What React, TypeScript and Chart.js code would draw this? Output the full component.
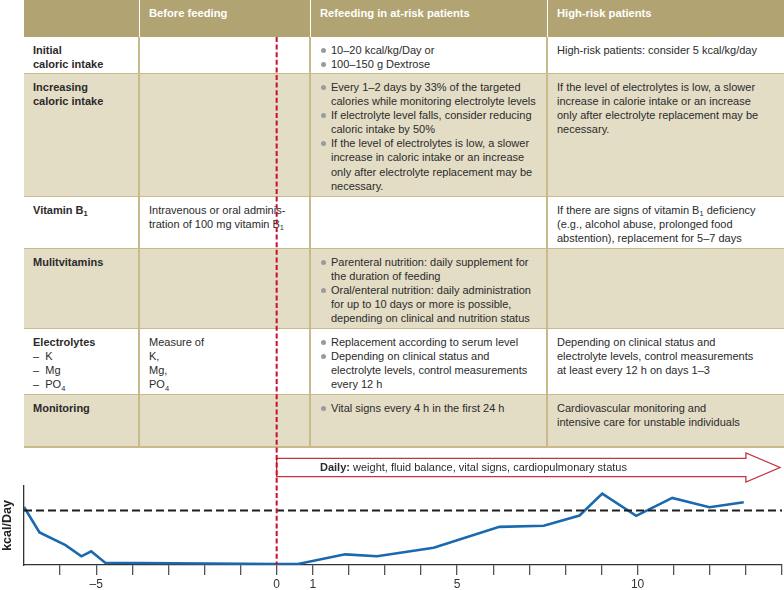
import React, { useEffect, useRef } from "react";
import { Chart, registerables } from "chart.js";

Chart.register(...registerables);

// ---------- chart data ----------
const days = [-7, -6.57, -5.85, -5.41, -5.14, -4.75, 0, 0.59, 1.9, 2.78, 4.35, 6.17, 7.4, 8.39, 9.02, 9.96, 10.96, 11.99, 12.94];
const kcal = [73.5, 41.2, 25.2, 11, 17.3, 2.9, 1.3, 1.3, 13.5, 11, 21.8, 48.3, 49.6, 62.7, 90.4, 62.2, 84.9, 73.1, 79.4];
const targetKcal = 69;
const xMin = -7;
const xMax = 14;
const arrowHeadDay = 13;
const labeledDays = [-5, 0, 1, 5, 10];
const yAxisTitle = "kcal/Day";
const arrowBold = "Daily:";
const arrowText = " weight, fluid balance, vital signs, cardiopulmonary status";

// ---------- table content ----------
const headers = ["", "Before feeding", "Refeeding in at-risk patients", "High-risk patients"];
const rowLabels = [["Initial", "caloric intake"], ["Increasing", "caloric intake"], ["Vitamin B{1}"], ["Mulitvitamins"], ["Electrolytes"], ["Monitoring"]];
const rowSubLabels = [[], [], [], [], ["–  K", "–  Mg", "–  PO{4}"], []];
const beforeFeeding = [[], [], ["Intravenous or oral adminis-", "tration of 100 mg vitamin B{1}"], [], ["Measure of", "K,", "Mg,", "PO{4}"], []];
const atRisk = [
  [["10–20 kcal/kg/Day or"], ["100–150 g Dextrose"]],
  [
    ["Every 1–2 days by 33% of the targeted", "calories while monitoring electrolyte levels"],
    ["If electrolyte level falls, consider reducing", "caloric intake by 50%"],
    ["If the level of electrolytes is low, a slower", "increase in caloric intake or an increase", "only after electrolyte replacement may be", "necessary."],
  ],
  [],
  [
    ["Parenteral nutrition: daily supplement for", "the duration of feeding"],
    ["Oral/enteral nutrition: daily administration", "for up to 10 days or more is possible,", "depending on clinical and nutrition status"],
  ],
  [["Replacement according to serum level"], ["Depending on clinical status and", "electrolyte levels, control measurements", "every 12 h"]],
  [["Vital signs every 4 h in the first 24 h"]],
];
const highRisk = [
  ["High-risk patients: consider 5 kcal/kg/day"],
  ["If the level of electrolytes is low, a slower", "increase in calorie intake or an increase", "only after electrolyte replacement may be", "necessary."],
  ["If there are signs of vitamin B{1} deficiency", "(e.g., alcohol abuse, prolonged food", "abstention), replacement for 5–7 days"],
  [],
  ["Depending on clinical status and", "electrolyte levels, control measurements", "at least every 12 h on days 1–3"],
  ["Cardiovascular monitoring and", "intensive care for unstable individuals"],
];

// ---------- layout ----------
const FONT = "'Liberation Sans', Arial, Helvetica, sans-serif";
const colX = [24, 139, 310, 547, 784];
const rowY = [0, 37, 74, 197, 249, 329, 395, 447];
const HEADER_BG = "#b1a472";
const SHADE_BG = "#e3ddc6";
const LINE = "#c8ba8b";
const TEXT = "#2b2b2b";
const FS = 11;
const LH = 14.2;
const PAD_TOP = 5.5;

function rich(s: string) {
  const parts = s.split(/\{(\d)\}/);
  return parts.map((p, i) =>
    i % 2 === 1 ? (
      <span key={i} style={{ fontSize: "0.68em", position: "relative", top: "0.35em" }}>{p}</span>
    ) : (
      <React.Fragment key={i}>{p}</React.Fragment>
    )
  );
}

function Lines({ lines, bold }: { lines: string[]; bold?: boolean }) {
  return (
    <>
      {lines.map((l, i) => (
        <div key={i} style={{ height: LH, lineHeight: LH + "px", whiteSpace: "pre", fontWeight: bold ? "bold" : "normal" }}>
          {rich(l)}
        </div>
      ))}
    </>
  );
}

function Table() {
  const els: any[] = [];
  els.push(<div key="hbg" style={{ position: "absolute", left: colX[0], top: rowY[0], width: colX[4] - colX[0], height: rowY[1] - rowY[0], background: HEADER_BG }} />);
  for (let c = 1; c < 4; c++) {
    els.push(<div key={"hv" + c} style={{ position: "absolute", left: colX[c] - 0.5, top: 0, width: 1, height: rowY[1], background: "#fff" }} />);
  }
  headers.forEach((h, c) => {
    if (!h) return;
    els.push(
      <div key={"h" + c} style={{ position: "absolute", left: colX[c] + 10, top: rowY[0] + PAD_TOP, color: "#fff", fontWeight: "bold", fontSize: 11.2, lineHeight: LH + "px", whiteSpace: "pre" }}>
        {h}
      </div>
    );
  });
  for (let r = 0; r < rowLabels.length; r++) {
    const top = rowY[r + 1];
    const bottom = rowY[r + 2];
    const shaded = r % 2 === 1;
    els.push(<div key={"rb" + r} style={{ position: "absolute", left: colX[0], top, width: colX[4] - colX[0], height: bottom - top, background: shaded ? SHADE_BG : "#fff" }} />);
    els.push(<div key={"rl" + r} style={{ position: "absolute", left: colX[0], top: bottom - 1, width: colX[4] - colX[0], height: 2, background: LINE }} />);
    els.push(
      <div key={"c1" + r} style={{ position: "absolute", left: colX[0] + 9, top: top + PAD_TOP }}>
        <Lines lines={rowLabels[r]} bold />
        <Lines lines={rowSubLabels[r]} />
      </div>
    );
    els.push(
      <div key={"c2" + r} style={{ position: "absolute", left: colX[1] + 10, top: top + PAD_TOP }}>
        <Lines lines={beforeFeeding[r]} />
      </div>
    );
    els.push(
      <div key={"c3" + r} style={{ position: "absolute", left: colX[2] + 21, top: top + PAD_TOP }}>
        {atRisk[r].map((b, i) => (
          <div key={i} style={{ position: "relative" }}>
            <span style={{ position: "absolute", left: -10.5, top: 5, width: 5, height: 5, borderRadius: "50%", background: "#9b9b9b" }} />
            <Lines lines={b} />
          </div>
        ))}
      </div>
    );
    els.push(
      <div key={"c4" + r} style={{ position: "absolute", left: colX[3] + 10, top: top + PAD_TOP }}>
        <Lines lines={highRisk[r]} />
      </div>
    );
  }
  for (let c = 1; c < 4; c++) {
    els.push(<div key={"bv" + c} style={{ position: "absolute", left: colX[c] - 0.75, top: rowY[1], width: 1.5, height: rowY[rowY.length - 1] - rowY[1], background: LINE }} />);
  }
  return <div style={{ position: "absolute", left: 0, top: 0, width: 784, height: 450, color: TEXT, fontSize: FS, fontFamily: FONT }}>{els}</div>;
}

const overlayPlugin = {
  id: "overlay",
  afterDraw(chart: any) {
    const { ctx, chartArea, scales } = chart;
    const xs = scales.x;
    const x0 = xs.getPixelForValue(0);
    const xHead = xs.getPixelForValue(arrowHeadDay);
    const xTip = xs.getPixelForValue(xMax) - 2;
    const cy = chartArea.top - 18.5;
    ctx.save();
    ctx.beginPath();
    ctx.moveTo(x0, cy - 9.2);
    ctx.lineTo(xHead, cy - 9.2);
    ctx.lineTo(xHead, cy - 14.5);
    ctx.lineTo(xTip, cy);
    ctx.lineTo(xHead, cy + 14.5);
    ctx.lineTo(xHead, cy + 9.2);
    ctx.lineTo(x0, cy + 9.2);
    ctx.closePath();
    ctx.strokeStyle = "#c8343e";
    ctx.lineWidth = 1.3;
    ctx.stroke();
    ctx.beginPath();
    ctx.setLineDash([5, 2.6]);
    ctx.moveTo(x0, rowY[1]);
    ctx.lineTo(x0, chartArea.bottom);
    ctx.strokeStyle = "#c8102e";
    ctx.lineWidth = 2;
    ctx.stroke();
    ctx.restore();
  },
};

export default function App() {
  const ref = useRef<HTMLCanvasElement>(null);
  useEffect(() => {
    Chart.defaults.font.family = FONT;
    const chart = new Chart(ref.current as HTMLCanvasElement, {
      type: "line",
      data: {
        datasets: [
          {
            label: "target",
            data: [
              { x: xMin, y: targetKcal },
              { x: xMax, y: targetKcal },
            ],
            borderColor: "#1e1e1e",
            borderWidth: 1.8,
            borderDash: [8, 4],
            pointRadius: 0,
          },
          {
            label: "kcal",
            data: days.map((d, i) => ({ x: d, y: kcal[i] })),
            borderColor: "#1a69b0",
            borderWidth: 2.6,
            pointRadius: 0,
            tension: 0,
          },
        ],
      },
      options: {
        responsive: false,
        animation: false,
        layout: { padding: { top: 486, right: 1.3, left: 0, bottom: 0 } },
        plugins: { legend: { display: false }, tooltip: { enabled: false } },
        scales: {
          x: {
            type: "linear",
            min: xMin,
            max: xMax,
            ticks: {
              stepSize: 1,
              autoSkip: false,
              maxRotation: 0,
              color: "#333",
              font: { size: 12 },
              padding: 2,
              callback: (v: any) => (labeledDays.includes(Number(v)) ? (Number(v) < 0 ? "–" + Math.abs(Number(v)) : String(v)) : ""),
            },
            grid: {
              drawOnChartArea: false,
              drawTicks: true,
              tickLength: 10,
              lineWidth: 1.3,
              color: (c: any) => (c.tick && c.tick.value === xMin ? "rgba(0,0,0,0)" : "#555"),
            },
            border: { display: true, color: "#333", width: 1.3 },
            afterFit: (s: any) => {
              s.height = 25;
            },
          },
          y: {
            min: 0,
            max: 100,
            ticks: { display: false },
            grid: { display: false },
            border: { display: true, color: "#333", width: 1.3 },
            title: { display: true, text: yAxisTitle, color: "#222", font: { size: 12.5, weight: "bold" }, padding: 0 },
            afterFit: (s: any) => {
              s.width = 24;
            },
          },
        },
      },
      plugins: [overlayPlugin],
    } as any);
    return () => chart.destroy();
  }, []);

  return (
    <div style={{ position: "fixed", left: 0, top: 0, width: 784, height: 590, background: "#fff", overflow: "hidden", fontFamily: FONT }}>
      <Table />
      <canvas ref={ref} width={784} height={590} style={{ position: "absolute", left: 0, top: 0, zIndex: 2, pointerEvents: "none" }} />
      <div style={{ position: "absolute", left: 320, top: 460, zIndex: 3, fontSize: FS, lineHeight: "14px", color: TEXT, whiteSpace: "pre", fontFamily: FONT }}>
        <b>{arrowBold}</b>
        {arrowText}
      </div>
    </div>
  );
}
